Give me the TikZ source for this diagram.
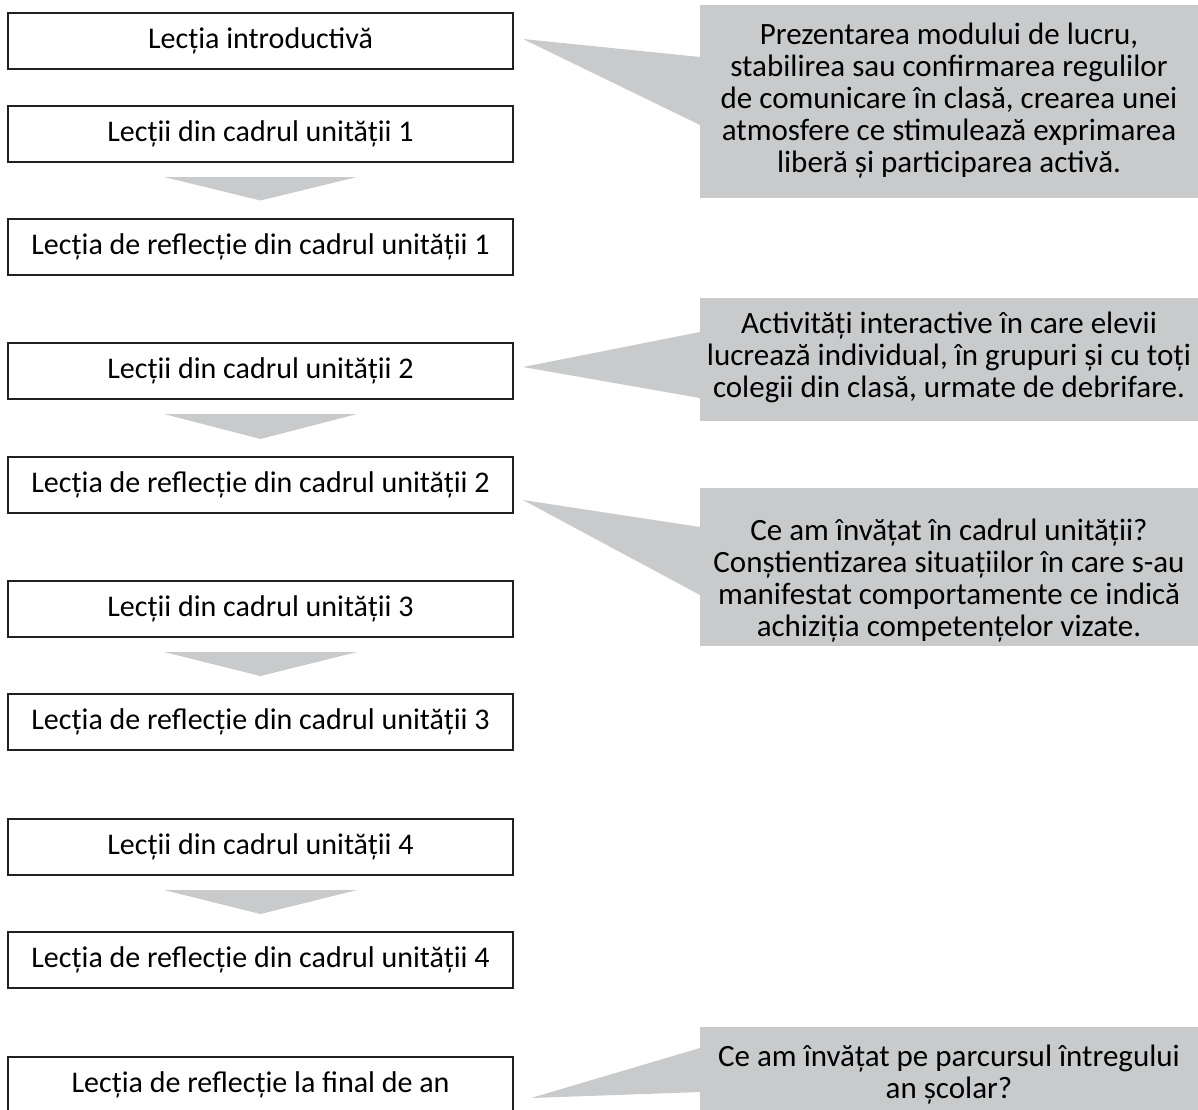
\documentclass[tikz,border=0pt]{standalone}
\usepackage{fontspec}
\setmainfont{Carlito}
\usetikzlibrary{positioning,calc}

\definecolor{notegray}{RGB}{200,202,203}
\definecolor{framedark}{RGB}{35,31,32}

\begin{document}
\begin{tikzpicture}[x=1pt,y=-1pt,
  lesson/.style={draw=framedark, line width=2pt, minimum width=505pt, minimum height=56pt, inner sep=0pt, font=\fontsize{30}{32}\selectfont},
  note/.style={fill=notegray, minimum width=498pt, inner sep=0pt, anchor=north west},
  notetext/.style={align=center, inner sep=0pt, font=\fontsize{31}{32}\selectfont},
  flow/.style={fill=notegray},
  pointer/.style={fill=notegray}]
  \useasboundingbox (0,0) rectangle (1198,1109);

  % Gray note panels (right column)
  \node[note, minimum height=193pt] (noteIntro) at (700,5) {};
  \node[note, minimum height=123pt] (noteUnit) at (700,298) {};
  \node[note, minimum height=158pt] (noteRefl) at (700,488) {};
  \node[note, minimum height=120pt] (noteFinal) at (700,1027) {};

  \node[notetext] (txtIntro) at (949,101) {Prezentarea modului de lucru,\\stabilirea sau confirmarea regulilor\\de comunicare în clasă, crearea unei\\atmosfere ce stimulează exprimarea\\liberă și participarea activă.};
  \node[notetext] (txtUnit) at (949,357) {Activități interactive în care elevii\\lucrează individual, în grupuri și cu toți\\colegii din clasă, urmate de debrifare.};
  \node[notetext] (txtRefl) at (949,581) {Ce am învățat în cadrul unității?\\Conștientizarea situațiilor în care s-au\\manifestat comportamente ce indică\\achiziția competențelor vizate.};
  \node[notetext] (txtFinal) at (949,1075) {Ce am învățat pe parcursul întregului\\an școlar?};

  % Lesson boxes (left column)
  \node[lesson] (intro) at (260.5,40.5) {Lecția introductivă};
  \node[lesson] (u1) at (260.5,134) {Lecții din cadrul unității 1};
  \node[lesson] (r1) at (260.5,246.5) {Lecția de reflecție din cadrul unității 1};
  \node[lesson] (u2) at (260.5,371) {Lecții din cadrul unității 2};
  \node[lesson] (r2) at (260.5,485) {Lecția de reflecție din cadrul unității 2};
  \node[lesson] (u3) at (260.5,609) {Lecții din cadrul unității 3};
  \node[lesson] (r3) at (260.5,722) {Lecția de reflecție din cadrul unității 3};
  \node[lesson] (u4) at (260.5,847) {Lecții din cadrul unității 4};
  \node[lesson] (r4) at (260.5,960) {Lecția de reflecție din cadrul unității 4};
  \node[lesson] (final) at (260.5,1085) {Lecția de reflecție la final de an};

  % Down triangles between unit lessons and reflection lessons
  \fill[flow] ([yshift=-14pt]u1.south) ++(-96.5pt,0) -- ++(193pt,0) -- ([yshift=17pt]r1.north) -- cycle;
  \fill[flow] ([yshift=-14pt]u2.south) ++(-96.5pt,0) -- ++(193pt,0) -- ([yshift=17pt]r2.north) -- cycle;
  \fill[flow] ([yshift=-14pt]u3.south) ++(-96.5pt,0) -- ++(193pt,0) -- ([yshift=17pt]r3.north) -- cycle;
  \fill[flow] ([yshift=-14pt]u4.south) ++(-96.5pt,0) -- ++(193pt,0) -- ([yshift=17pt]r4.north) -- cycle;

  % Pointers from the notes to the lessons
  \fill[pointer] ([shift={(9pt,1.5pt)}]intro.east) -- ([yshift=-52pt]noteIntro.north west) -- ([yshift=-120pt]noteIntro.north west) -- cycle;
  \fill[pointer] ([shift={(9pt,4pt)}]u2.east) -- ([yshift=-34pt]noteUnit.north west) -- ([yshift=-100pt]noteUnit.north west) -- cycle;
  \fill[pointer] ([shift={(9pt,-15pt)}]r2.east) -- ([yshift=-39pt]noteRefl.north west) -- ([yshift=-107pt]noteRefl.north west) -- cycle;
  \fill[pointer] ([shift={(17pt,-13pt)}]final.east) -- ([yshift=-21pt]noteFinal.north west) -- ([yshift=-65pt]noteFinal.north west) -- cycle;
\end{tikzpicture}
\end{document}
